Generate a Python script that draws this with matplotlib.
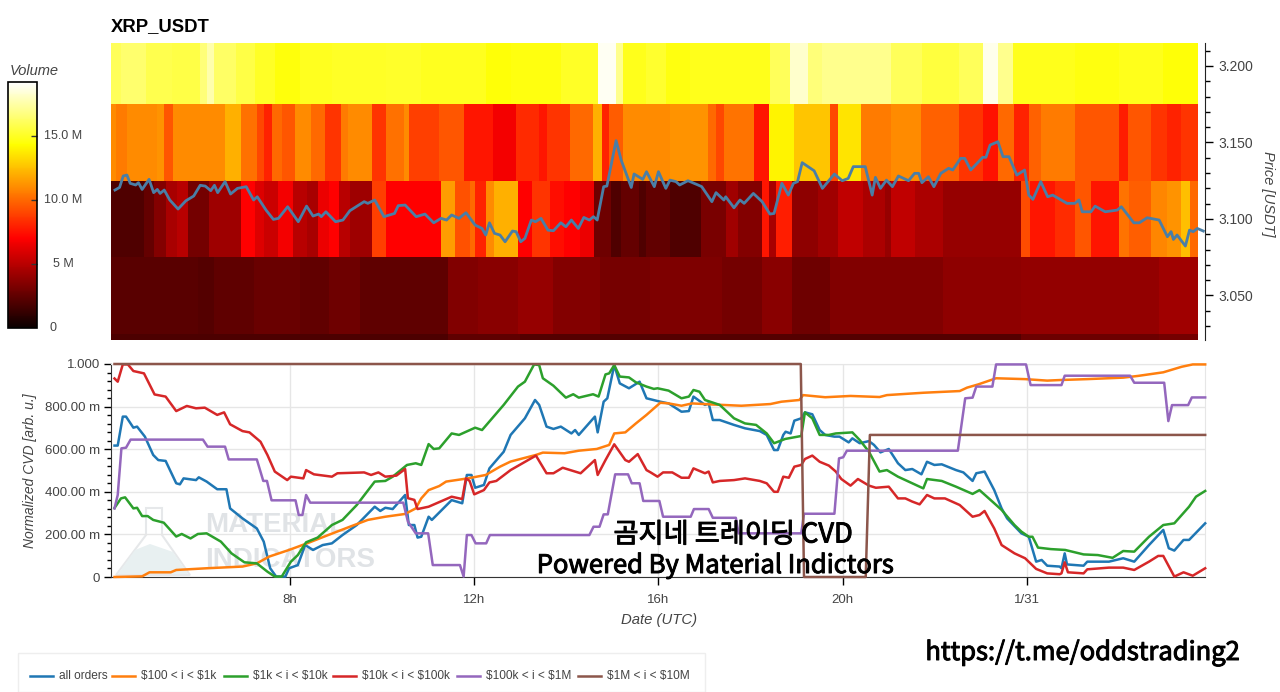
import matplotlib
matplotlib.use("Agg")
import matplotlib.pyplot as plt
import matplotlib.patheffects as pe
from matplotlib.cm import ScalarMappable
from matplotlib.colors import Normalize
from matplotlib.lines import Line2D
from matplotlib.patches import Polygon, Rectangle
from matplotlib.ticker import FixedLocator, MultipleLocator

plt.rcParams["font.family"] = ["Liberation Sans", "DejaVu Sans"]
W, H = 1280, 692
INK = "#444444"
VMAX = 19.2

# ---------- price line (hours since 0h, USDT) ----------
price_t = [4.20,4.30,4.38,4.46,4.53,4.65,4.71,4.79,4.94,5.04,5.12,5.18,5.27,5.39,5.57,5.74,5.91,6.05,6.16,6.28,6.36,6.43,6.59,6.71,6.86,7.05,7.21,7.29,7.48,7.64,7.75,7.95,8.18,8.36,8.50,8.62,8.68,8.78,8.99,9.15,9.30,9.61,9.69,9.84,10.04,10.27,10.35,10.50,10.74,10.93,11.12,11.28,11.40,11.51,11.67,11.82,12.02,12.17,12.25,12.33,12.44,12.56,12.67,12.83,12.91,13.01,13.10,13.24,13.33,13.45,13.60,13.72,13.88,13.99,14.11,14.26,14.38,14.50,14.59,14.67,14.81,14.88,15.08,15.19,15.41,15.47,15.66,15.74,15.91,16.0,16.16,16.25,16.38,16.46,16.64,16.86,16.94,17.16,17.25,17.42,17.46,17.64,17.77,17.86,18.06,18.25,18.42,18.51,18.68,18.82,18.93,19.02,19.12,19.38,19.56,19.82,19.99,20.12,20.23,20.49,20.64,20.71,20.82,20.95,21.08,21.21,21.43,21.56,21.65,21.72,21.86,21.98,22.13,22.30,22.39,22.56,22.65,22.78,23.04,23.11,23.20,23.37,23.48,23.61,23.78,23.95,24.04,24.13,24.30,24.45,24.56,24.87,25.04,25.13,25.20,25.39,25.48,25.70,25.96,26.05,26.32,26.44,26.61,26.87,27.05,27.13,27.18,27.26,27.44,27.53,27.61,27.70,27.83]
price_v = [3.1189,3.1206,3.1281,3.1287,3.1233,3.1222,3.1237,3.1193,3.1259,3.1172,3.1193,3.1167,3.1189,3.1124,3.1065,3.1119,3.1150,3.1220,3.1215,3.1185,3.1220,3.1172,3.1244,3.1163,3.1200,3.1211,3.1124,3.1145,3.1058,3.0997,3.1004,3.1080,3.0982,3.1084,3.1019,3.1032,3.1015,3.1047,3.0982,3.0993,3.1054,3.1113,3.1102,3.1124,3.1015,3.1036,3.1087,3.1091,3.1015,3.1032,3.0975,3.1004,3.0993,3.1026,3.1004,3.1041,3.0960,3.0938,3.0895,3.0975,3.0906,3.0895,3.0851,3.0921,3.0917,3.0851,3.0873,3.0993,3.0982,3.1004,3.0927,3.0923,3.0975,3.0949,3.0993,3.0938,3.1010,3.0993,3.1015,3.0993,3.1211,3.1215,3.1512,3.1385,3.1206,3.1294,3.1259,3.1309,3.1211,3.1309,3.1200,3.1254,3.1244,3.1222,3.1250,3.1222,3.1211,3.1113,3.1172,3.1124,3.1145,3.1073,3.1124,3.1102,3.1167,3.1113,3.1032,3.1036,3.1233,3.1156,3.1233,3.1244,3.1368,3.1315,3.1200,3.1294,3.1250,3.1265,3.1342,3.1342,3.1156,3.1272,3.1200,3.1254,3.1211,3.1281,3.1250,3.1298,3.1298,3.1237,3.1276,3.1211,3.1298,3.1331,3.1320,3.1396,3.1396,3.1320,3.1403,3.1403,3.1483,3.1505,3.1407,3.1407,3.1287,3.1320,3.1156,3.1128,3.1244,3.1145,3.1156,3.1102,3.1102,3.1124,3.1047,3.1047,3.1084,3.1047,3.1058,3.1080,3.0975,3.0975,3.1008,3.0993,3.0884,3.0917,3.0866,3.0895,3.0823,3.0927,3.0917,3.0938,3.0921]

# ---------- heatmap bands: volume in millions per time segment ----------
band_prices = [3.0209, 3.025, 3.075, 3.125, 3.175, 3.215]

band0_t = [4.12,11.43,13.0,23.87,26.87,27.72]
band0_v = [1.9,2.4,2.1,2.8,3.0]

band1_t = [4.12,6.0,6.36,7.21,8.22,8.84,9.53,11.43,12.09,12.95,13.72,14.73,15.81,17.38,18.25,18.90,19.73,22.17,23.87,26.87,27.72]
band1_v = [2.3,2.1,2.4,2.7,2.5,2.9,2.4,3.4,3.6,4.0,3.5,3.1,3.3,3.0,3.6,2.9,3.4,3.8,3.9,4.3]

band2_t = [4.12,4.84,5.04,5.31,5.54,5.78,6.24,6.94,7.25,7.44,7.75,8.06,8.37,8.60,8.84,9.07,9.30,9.77,10.08,11.28,11.59,11.90,12.02,12.25,12.44,12.95,13.26,13.64,13.95,14.30,14.59,14.96,15.19,15.58,15.74,16.25,16.92,17.46,17.73,18.25,18.40,18.55,18.90,19.47,19.90,20.43,20.91,21.04,21.56,22.17,23.87,24.06,24.61,25.04,25.39,26.0,26.22,26.70,27.05,27.35,27.53,27.72]
band2_v = [2.0,2.6,3.5,4.5,5,3,4.2,7,6,5.5,6.7,5,4.5,6.5,7,5,4.2,8.8,7,11.5,9.3,10,8,11,12,7,8.5,7.4,7,6.5,2.9,2,2.6,2,2.5,2,3.2,4.3,3.5,7.6,4.5,7.8,3.8,4.3,5.2,4.6,4,5.2,4.6,4,9.2,7.6,8.3,9.5,7.6,10.3,9.7,10.8,11.2,12.5,10]

band3_t = [4.12,4.22,4.46,5.12,5.27,5.47,6.59,6.94,7.29,7.44,7.60,7.83,8.10,8.45,8.76,9.11,9.26,9.77,10.08,10.47,10.58,11.24,11.78,12.40,12.91,13.41,13.57,14.07,14.57,14.77,14.92,15.23,16.25,17.07,17.25,17.42,18.07,18.40,18.95,19.73,19.90,20.40,21.04,21.69,22.52,23.04,23.37,23.72,24.04,24.30,25.04,26.0,26.19,26.70,27.05,27.35,27.72]
band3_v = [11,10.5,11,11.2,9.5,11,12,10.2,9,8,10,9.5,11,10,8.5,10.5,11,8.5,10.2,11,8.8,9.5,7.6,6.7,8.2,7.6,8.5,10,12,8,9.6,11,11.2,10,9,10.3,7.6,14,12.6,9,13.5,10.5,11,9.8,8.5,7.5,10,8,9.8,10.5,9.5,7.8,9.5,8.5,8,8.5]

band4_t = [4.12,4.34,4.88,5.43,6.05,6.20,6.36,6.82,7.25,7.67,8.22,8.91,10.08,10.85,12.25,12.79,13.88,14.69,15.08,15.23,15.74,16.16,16.68,17.55,18.42,18.86,19.25,19.56,20.34,21.04,21.73,22.52,23.04,23.37,23.69,25.04,26.0,26.96,27.72]
band4_v = [16.0,16.4,15.8,15.6,16.6,17.6,16.2,15.6,15,14.5,14.9,15,15.1,14.9,14.4,14.6,15,18.9,17,14.8,15.2,14.6,14.8,14.8,16,18.2,16.6,17,17,16,15.5,16,18.8,17,14.8,14.6,14.8,14.4]

# ---------- CVD series ----------
blue_t = [4.19,4.26,4.37,4.44,4.60,4.68,4.85,5.03,5.14,5.30,5.53,5.61,5.69,5.96,6.02,6.19,6.42,6.62,6.70,6.97,7.28,7.43,7.57,7.70,7.90,7.98,8.17,8.33,8.50,8.71,8.91,9.14,9.45,9.65,9.84,9.96,10.07,10.23,10.50,10.58,10.70,10.77,10.85,11.01,11.08,11.51,11.74,11.84,11.94,12.02,12.21,12.33,12.64,12.79,13.10,13.32,13.41,13.57,13.72,13.88,14.11,14.19,14.27,14.62,14.68,14.81,14.89,15.04,15.16,15.36,15.59,15.74,16.04,16.22,16.50,16.66,16.76,17.01,17.09,17.18,17.33,17.64,17.88,18.20,18.35,18.51,18.59,18.71,18.76,18.87,18.95,19.10,19.18,19.34,19.50,19.62,19.82,19.93,20.13,20.21,20.37,20.57,20.68,20.82,21.0,21.20,21.36,21.51,21.71,21.83,21.99,22.15,22.46,22.62,22.82,22.90,23.08,23.29,23.45,23.57,23.88,24.04,24.20,24.32,24.44,24.71,24.75,24.82,24.87,25.23,25.31,25.78,26.09,26.33,26.65,26.96,27.08,27.20,27.40,27.52,27.87]
blue_v = [.617,.617,.753,.753,.701,.706,.659,.573,.549,.545,.440,.435,.463,.455,.468,.448,.412,.412,.322,.275,.228,.166,.041,.002,.002,.041,.056,.150,.127,.150,.158,.197,.244,.288,.330,.310,.325,.319,.385,.244,.244,.185,.189,.283,.268,.361,.346,.479,.479,.419,.432,.510,.588,.667,.745,.831,.808,.706,.695,.706,.674,.690,.667,.753,.679,.823,.839,.995,.909,.886,.917,.839,.823,.815,.776,.779,.847,.808,.815,.737,.737,.714,.698,.685,.667,.596,.596,.667,.682,.674,.734,.745,.773,.764,.690,.667,.659,.659,.632,.651,.628,.638,.620,.585,.601,.534,.502,.507,.482,.541,.526,.529,.502,.491,.451,.487,.495,.408,.322,.275,.205,.189,.072,.080,.053,.049,.041,.111,.059,.053,.072,.072,.088,.072,.150,.221,.135,.124,.174,.174,.252]

orange_t = [4.19,4.79,4.95,5.41,5.53,6.19,6.97,7.28,7.55,7.98,8.37,8.83,9.30,9.69,10.07,10.50,10.73,10.85,11.01,11.24,11.39,11.86,12.25,12.56,12.79,13.34,13.49,13.96,14.27,14.66,14.93,15.04,15.28,15.51,15.74,16.04,16.22,16.50,16.73,17.17,17.80,18.43,18.67,19.06,19.14,19.62,20.17,20.80,20.96,21.75,22.54,22.70,22.94,23.33,23.96,24.44,24.75,25.31,26.09,26.41,26.96,27.36,27.60,27.87]
orange_v = [0,.003,.022,.022,.033,.041,.049,.064,.096,.127,.158,.197,.236,.268,.283,.296,.322,.369,.408,.427,.448,.463,.479,.518,.542,.573,.584,.581,.593,.601,.620,.674,.679,.721,.761,.818,.815,.804,.815,.810,.804,.812,.823,.831,.854,.844,.850,.845,.854,.865,.873,.889,.904,.933,.929,.922,.925,.929,.936,.944,.961,.987,.998,.998]

green_t = [4.19,4.33,4.42,4.60,4.68,4.79,4.91,5.03,5.26,5.53,5.65,5.84,6.00,6.19,6.50,6.73,7.01,7.28,7.51,7.67,7.82,8.02,8.17,8.35,8.60,8.91,9.14,9.45,9.84,10.07,10.23,10.54,10.73,10.85,11.01,11.12,11.24,11.51,11.67,12.02,12.17,12.64,12.95,13.10,13.30,13.41,13.49,13.72,13.99,14.15,14.27,14.58,14.70,14.85,14.93,15.04,15.16,15.36,15.51,15.74,15.90,15.98,16.22,16.50,16.66,16.76,16.89,17.01,17.33,17.64,17.88,18.12,18.35,18.51,18.75,19.10,19.18,19.34,19.50,19.70,19.85,20.21,20.37,20.57,20.80,20.96,21.20,21.51,21.75,21.83,22.15,22.46,22.82,22.97,23.25,23.45,23.73,23.88,24.04,24.12,24.24,24.52,24.83,25.23,25.54,25.86,26.09,26.33,26.65,26.96,27.20,27.52,27.67,27.87]
green_v = [.324,.369,.374,.322,.325,.286,.286,.268,.255,.190,.202,.181,.202,.205,.166,.111,.069,.064,.025,.002,.002,.072,.103,.163,.185,.244,.268,.338,.448,.451,.471,.526,.534,.526,.624,.601,.604,.674,.667,.701,.690,.808,.894,.917,.998,.995,.933,.898,.842,.858,.842,.858,.847,.951,.956,.995,.941,.937,.914,.894,.883,.886,.875,.839,.847,.878,.870,.831,.808,.745,.721,.714,.674,.628,.648,.662,.773,.745,.667,.667,.674,.679,.643,.588,.495,.502,.471,.440,.416,.460,.451,.424,.390,.408,.354,.315,.244,.213,.189,.189,.138,.131,.127,.106,.103,.090,.122,.119,.189,.244,.252,.330,.377,.404]

red_t = [4.19,4.26,4.37,4.48,4.60,4.83,5.06,5.30,5.53,5.76,5.96,6.15,6.42,6.57,6.70,6.97,7.12,7.36,7.51,7.67,7.94,8.02,8.29,8.35,8.52,8.91,9.03,9.61,9.76,9.92,10.07,10.31,10.50,10.56,10.70,10.77,11.01,11.51,11.74,11.82,11.90,12.00,12.21,12.33,12.48,12.79,13.34,13.57,13.72,13.92,14.19,14.31,14.62,14.68,14.85,15.04,15.28,15.36,15.55,15.74,15.83,15.98,16.10,16.30,16.50,16.66,16.76,17.01,17.09,17.18,17.33,17.64,17.88,18.20,18.35,18.51,18.59,18.71,18.83,18.95,19.10,19.18,19.34,19.50,19.70,19.85,19.97,20.17,20.33,20.57,20.72,21.0,21.20,21.36,21.51,21.67,21.83,21.99,22.22,22.54,22.82,22.97,23.08,23.29,23.45,23.73,23.96,24.20,24.44,24.71,24.75,24.82,24.89,25.23,25.31,25.78,26.09,26.33,26.65,26.85,26.96,27.20,27.40,27.60,27.87]
red_v = [.932,.917,.998,.998,.967,.956,.857,.847,.779,.803,.792,.795,.761,.773,.717,.685,.679,.635,.573,.495,.455,.471,.463,.502,.482,.471,.487,.491,.479,.491,.471,.476,.507,.370,.362,.319,.330,.377,.366,.463,.451,.388,.408,.444,.451,.502,.570,.487,.487,.513,.495,.487,.549,.479,.549,.623,.549,.541,.577,.502,.491,.471,.491,.491,.466,.466,.510,.487,.495,.444,.451,.455,.463,.451,.440,.400,.400,.471,.466,.518,.526,.554,.570,.541,.523,.495,.460,.429,.460,.429,.419,.424,.369,.369,.354,.341,.385,.369,.369,.338,.283,.291,.310,.228,.150,.111,.088,.038,.017,.013,.017,.069,.022,.017,.036,.044,.044,.033,.072,.099,.099,.002,.022,.006,.041]

purple_t = [4.19,4.26,4.34,4.44,4.54,6.11,6.21,6.59,6.67,7.28,7.42,7.50,7.60,8.12,8.19,8.27,8.35,8.44,10.46,10.56,10.73,11.0,11.10,11.69,11.77,11.84,11.94,12.03,12.26,12.34,14.50,14.59,14.72,14.81,14.90,15.06,15.34,15.42,15.59,15.67,16.02,16.10,16.70,16.77,17.09,17.18,17.68,17.74,19.10,19.16,19.82,19.92,20.01,20.09,22.50,22.66,22.82,22.90,23.25,23.33,23.98,24.08,24.75,24.82,26.24,26.33,26.98,27.07,27.15,27.50,27.58,27.87]
purple_v = [.322,.385,.604,.607,.645,.645,.612,.612,.552,.552,.451,.451,.360,.360,.291,.291,.385,.349,.349,.260,.205,.205,.056,.056,.002,.197,.197,.158,.158,.197,.197,.236,.236,.294,.294,.482,.482,.440,.440,.357,.357,.283,.283,.319,.319,.278,.278,.205,.205,.297,.297,.557,.562,.593,.593,.839,.842,.894,.894,.998,.998,.901,.901,.945,.945,.912,.912,.732,.807,.807,.843,.843]

brown_t = [4.19,19.09,19.16,20.50,20.59,27.87]
brown_v = [1.0,1.0,0.0,0.0,.667,.667]

series = [
    ("all orders", blue_t, blue_v, "#1f77b4"),
    (r"\$100 < i < \$1k", orange_t, orange_v, "#ff7f0e"),
    (r"\$1k < i < \$10k", green_t, green_v, "#2ca02c"),
    (r"\$10k < i < \$100k", red_t, red_v, "#d62728"),
    (r"\$100k < i < \$1M", purple_t, purple_v, "#9467bd"),
    (r"\$1M < i < \$10M", brown_t, brown_v, "#8c564b"),
]

def box(left, top, right, bottom):
    return [left / W, 1 - bottom / H, (right - left) / W, (bottom - top) / H]

def px(x, y):
    return (x / W, 1 - y / H)

fig = plt.figure(figsize=(W / 100, H / 100), dpi=100, facecolor="white")
XLIM = (4.114, 27.866)

# ---------- heatmap + price ----------
ax = fig.add_axes(box(111, 43, 1205, 340))
bands = [(band0_t, band0_v), (band1_t, band1_v), (band2_t, band2_v), (band3_t, band3_v), (band4_t, band4_v)]
for i, (bt, bv) in enumerate(bands):
    ax.pcolormesh(bt, band_prices[i:i + 2], [bv], cmap="hot", vmin=0, vmax=VMAX, shading="flat")
ax.plot(price_t, price_v, color="#4a7ea6", lw=2.0, zorder=3)
ax.set_xlim(*XLIM)
ax.set_ylim(3.0209, 3.2150)
ax.spines[["top", "left", "bottom"]].set_visible(False)
ax.spines["right"].set_color("#222222")
ax.xaxis.set_visible(False)
ax.yaxis.tick_right()
ax.yaxis.set_major_locator(FixedLocator([3.05, 3.10, 3.15, 3.20]))
ax.yaxis.set_minor_locator(MultipleLocator(0.01))
ax.set_yticklabels(["3.050", "3.100", "3.150", "3.200"])
ax.tick_params(axis="y", which="major", length=6, width=1, labelsize=10, labelcolor=INK, pad=4)
ax.tick_params(axis="y", which="minor", length=3.5, width=1)
fig.text(111 / W, 1 - 27 / H, "XRP_USDT", fontsize=13.3, fontweight="bold", color="black", va="center")
fig.text(1268 / W, 1 - 194 / H, "Price [USDT]", fontsize=10.5, style="italic", color=INK,
         rotation=-90, ha="center", va="center")

# ---------- colourbar ----------
cax = fig.add_axes(box(8, 82, 37, 328))
cb = fig.colorbar(ScalarMappable(Normalize(0, VMAX), "hot"), cax=cax)
cb.set_ticks([5, 10, 15], labels=[])
cax.tick_params(axis="y", direction="in", length=4, width=1, color="#333333")
cb.outline.set_edgecolor("black")
cb.outline.set_linewidth(1.2)
fig.text(10 / W, 1 - 71 / H, "Volume", fontsize=10.5, style="italic", color=INK, va="center")
for label, vol in zip(["15.0 M", "10.0 M", "5 M", "0"], [15, 10, 5, 0]):
    fig.text(63 / W if vol else 53 / W, 1 - (328 - vol * 12.8) / H, label, fontsize=9, color=INK,
             ha="center", va="center")

# ---------- CVD panel ----------
bx = fig.add_axes(box(111, 364, 1205, 577))
bx.patch.set_alpha(0)
bx.set_xlim(*XLIM)
bx.set_ylim(0, 1)
bx.grid(True, color="#e6e6e6", lw=1, zorder=0)
bx.set_axisbelow(True)

# watermark sits under the lines
bx.text(205 / W, 1 - 525 / H, "MATERIAL", transform=fig.transFigure, fontsize=20, fontweight="bold",
        color="#e0e3e6", va="center", zorder=0.5)
bx.text(205 / W, 1 - 560 / H, "INDICATORS", transform=fig.transFigure, fontsize=20, fontweight="bold",
        color="#e0e3e6", va="center", zorder=0.5)
flask = [(146, 508), (162, 508), (162, 535), (190, 575), (116, 575), (146, 535)]
water = [(135, 550), (150, 544), (173, 552), (188, 574), (118, 574)]
bx.add_patch(Polygon([px(*p) for p in flask], closed=True, transform=fig.transFigure, fill=False,
                     edgecolor="#e6e8ea", lw=1.5, zorder=0.5))
bx.add_patch(Polygon([px(*p) for p in water], closed=True, transform=fig.transFigure,
                     facecolor="#e8f0f1", edgecolor="none", zorder=0.5))

for name, st, sv, col in series:
    bx.plot(st, sv, color=col, lw=1.8, clip_on=False, zorder=3, label=name)

bx.spines["top"].set_color("#e6e6e6")
bx.spines["right"].set_color("#e6e6e6")
bx.spines["left"].set_color("#333333")
bx.spines["bottom"].set_color("#333333")
bx.set_xticks([8, 12, 16, 20, 24])
bx.set_xticklabels(["8h", "12h", "16h", "20h", "1/31"])
bx.set_yticks([0, .2, .4, .6, .8, 1.0])
bx.set_yticklabels(["0", "200.00 m", "400.00 m", "600.00 m", "800.00 m", "1.000"])
bx.yaxis.set_minor_locator(MultipleLocator(0.04))
bx.tick_params(axis="x", which="major", length=6, width=1, labelsize=9.5, labelcolor=INK, pad=6)
bx.tick_params(axis="y", which="major", length=5, width=1, labelsize=9.5, labelcolor=INK, pad=3)
bx.tick_params(axis="y", which="minor", length=3, width=1)
fig.text(30 / W, 1 - 471 / H, "Normalized CVD [arb. u.]", fontsize=10, style="italic", color=INK,
         rotation=90, ha="center", va="center")
fig.text(659 / W, 1 - 620 / H, "Date (UTC)", fontsize=10.7, style="italic", color=INK, ha="center", va="center")

# ---------- legend box ----------
fig.add_artist(Rectangle(px(18, 692), 687 / W, 39 / H, transform=fig.transFigure, facecolor="white",
                         edgecolor="#eeeeee", lw=1))
line_x = [30, 112, 224, 333, 457, 578]
for (name, _, _, col), lx in zip(series, line_x):
    fig.add_artist(Line2D([lx / W, (lx + 23) / W], [1 - 676 / H] * 2, color=col, lw=1.8, transform=fig.transFigure))
    fig.text((lx + 29) / W, 1 - 676 / H, name, fontsize=8.6, color=INK, va="center")

# ---------- overlay captions ----------
CJK = ["Noto Sans CJK KR", "DejaVu Sans"]
heavy = [pe.withStroke(linewidth=0.7, foreground="black")]
fig.text(733 / W, 1 - 535 / H, "곰지네 트레이딩 CVD", fontsize=19.6, family=CJK, color="black", ha="center", va="center", zorder=10, path_effects=heavy)
fig.text(716 / W, 1 - 566 / H, "Powered By Material Indictors", fontsize=18.4, family=CJK, color="black", ha="center", va="center", zorder=10, path_effects=heavy)
fig.text(1083 / W, 1 - 653 / H, "https://t.me/oddstrading2", fontsize=18.4, family=CJK, color="black", ha="center", va="center", zorder=10, path_effects=heavy)

fig.savefig("out.png", dpi=100)
